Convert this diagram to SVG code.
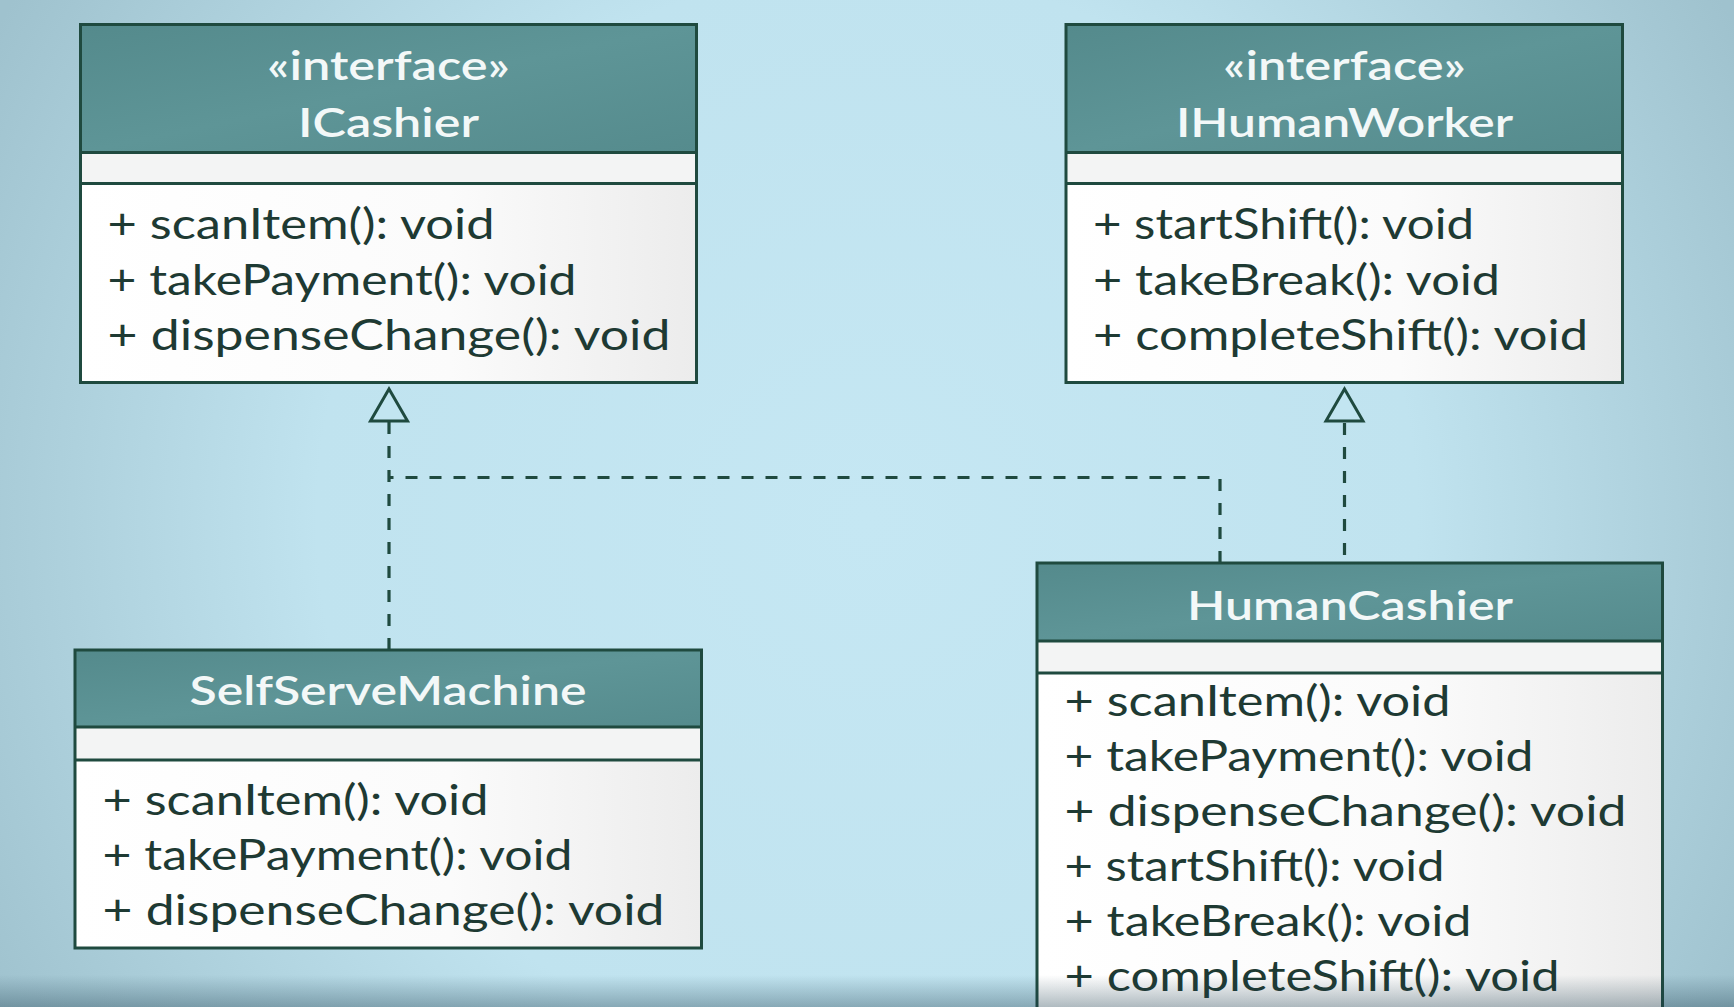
<svg xmlns="http://www.w3.org/2000/svg" width="1734" height="1007" viewBox="0 0 1734 1007">
<defs>
  <radialGradient id="bg" cx="867" cy="520" r="1000" gradientUnits="userSpaceOnUse">
    <stop offset="0" stop-color="#c5e7f3"/>
    <stop offset="0.55" stop-color="#c0e3ef"/>
    <stop offset="1" stop-color="#9fc2ce"/>
  </radialGradient>
  <linearGradient id="hdr" x1="0" y1="0" x2="1" y2="1">
    <stop offset="0" stop-color="#548a8c"/>
    <stop offset="0.5" stop-color="#5e9597"/>
    <stop offset="1" stop-color="#558b8d"/>
  </linearGradient>
  <linearGradient id="body" x1="0" y1="0" x2="1" y2="0">
    <stop offset="0" stop-color="#ffffff"/>
    <stop offset="0.6" stop-color="#fbfbfb"/>
    <stop offset="1" stop-color="#ececec"/>
  </linearGradient>
  <linearGradient id="shade" x1="0" y1="0" x2="0" y2="1">
    <stop offset="0" stop-color="#1c3c4c" stop-opacity="0"/>
    <stop offset="1" stop-color="#1c3c4c" stop-opacity="0.35"/>
  </linearGradient>
  <marker id="tri" markerUnits="userSpaceOnUse" viewBox="-3 -22 38 44" markerWidth="38" markerHeight="44" refX="0" refY="0" orient="auto">
    <path d="M0,-18.5 L32,0 L0,18.5 Z" fill="#c2e5f1" stroke="#1f4a3f" stroke-width="3" stroke-linejoin="miter"/>
  </marker>
  <style>
    .hdr { fill: url(#hdr); }
    .attr { fill: #f3f4f4; }
    .body { fill: url(#body); }
    .frame { fill: none; stroke: #1f4a3f; stroke-width: 3; }
    .sep { stroke: #1f4a3f; stroke-width: 3; }
    .ttl { font-family: Lato, "Open Sans", "Liberation Sans", sans-serif; font-size: 40px; font-weight: 600; fill: #f3f8f8; text-anchor: middle; }
    .m { font-family: Lato, "Open Sans", "Liberation Sans", sans-serif; font-size: 43px; fill: #1e3a33; }
    .dash { fill: none; stroke: #1f4a3f; stroke-width: 3.2; stroke-dasharray: 12 12; }
  </style>
</defs>

<rect x="0" y="0" width="1734" height="1007" fill="url(#bg)"/>

<g id="connectors">
  <path class="dash" d="M389,650 V421" marker-end="url(#tri)"/>
  <path class="dash" d="M1220,563 V477.5 H389"/>
  <path class="dash" d="M1344.5,555 V421" marker-end="url(#tri)"/>
</g>

<g id="ICashier">
  <rect class="hdr" x="80.5" y="24.5" width="616" height="128"/>
  <rect class="attr" x="80.5" y="152.5" width="616" height="31"/>
  <rect class="body" x="80.5" y="183.5" width="616" height="199"/>
  <line class="sep" x1="80.5" y1="152.5" x2="696.5" y2="152.5"/>
  <line class="sep" x1="80.5" y1="183.5" x2="696.5" y2="183.5"/>
  <rect class="frame" x="80.5" y="24.5" width="616" height="358"/>
  <text class="ttl" x="388.5" y="80" textLength="243" lengthAdjust="spacingAndGlyphs">«interface»</text>
  <text class="ttl" x="388.5" y="137" textLength="181" lengthAdjust="spacingAndGlyphs">ICashier</text>
  <text class="m" x="107.5" y="239" textLength="387" lengthAdjust="spacingAndGlyphs">+ scanItem(): void</text>
  <text class="m" x="107.5" y="295" textLength="469" lengthAdjust="spacingAndGlyphs">+ takePayment(): void</text>
  <text class="m" x="107.5" y="350" textLength="563" lengthAdjust="spacingAndGlyphs">+ dispenseChange(): void</text>
</g>

<g id="IHumanWorker">
  <rect class="hdr" x="1066" y="24.5" width="556.5" height="128"/>
  <rect class="attr" x="1066" y="152.5" width="556.5" height="31"/>
  <rect class="body" x="1066" y="183.5" width="556.5" height="199"/>
  <line class="sep" x1="1066" y1="152.5" x2="1622.5" y2="152.5"/>
  <line class="sep" x1="1066" y1="183.5" x2="1622.5" y2="183.5"/>
  <rect class="frame" x="1066" y="24.5" width="556.5" height="358"/>
  <text class="ttl" x="1344.5" y="80" textLength="243" lengthAdjust="spacingAndGlyphs">«interface»</text>
  <text class="ttl" x="1344.5" y="137" textLength="337" lengthAdjust="spacingAndGlyphs">IHumanWorker</text>
  <text class="m" x="1093" y="239" textLength="381" lengthAdjust="spacingAndGlyphs">+ startShift(): void</text>
  <text class="m" x="1093" y="295" textLength="407" lengthAdjust="spacingAndGlyphs">+ takeBreak(): void</text>
  <text class="m" x="1093" y="350" textLength="495" lengthAdjust="spacingAndGlyphs">+ completeShift(): void</text>
</g>

<g id="SelfServeMachine">
  <rect class="hdr" x="75" y="650" width="626.5" height="77"/>
  <rect class="attr" x="75" y="727" width="626.5" height="33"/>
  <rect class="body" x="75" y="760" width="626.5" height="188"/>
  <line class="sep" x1="75" y1="727" x2="701.5" y2="727"/>
  <line class="sep" x1="75" y1="760" x2="701.5" y2="760"/>
  <rect class="frame" x="75" y="650" width="626.5" height="298"/>
  <text class="ttl" x="388" y="705" textLength="397" lengthAdjust="spacingAndGlyphs">SelfServeMachine</text>
  <text class="m" x="102.5" y="815" textLength="386" lengthAdjust="spacingAndGlyphs">+ scanItem(): void</text>
  <text class="m" x="102.5" y="870" textLength="470" lengthAdjust="spacingAndGlyphs">+ takePayment(): void</text>
  <text class="m" x="102.5" y="925" textLength="562" lengthAdjust="spacingAndGlyphs">+ dispenseChange(): void</text>
</g>

<g id="HumanCashier">
  <rect class="hdr" x="1037" y="563" width="625.5" height="78"/>
  <rect class="attr" x="1037" y="641" width="625.5" height="32"/>
  <rect class="body" x="1037" y="673" width="625.5" height="340"/>
  <line class="sep" x1="1037" y1="641" x2="1662.5" y2="641"/>
  <line class="sep" x1="1037" y1="673" x2="1662.5" y2="673"/>
  <rect class="frame" x="1037" y="563" width="625.5" height="450"/>
  <text class="ttl" x="1350" y="620" textLength="326" lengthAdjust="spacingAndGlyphs">HumanCashier</text>
  <text class="m" x="1064.5" y="716" textLength="386" lengthAdjust="spacingAndGlyphs">+ scanItem(): void</text>
  <text class="m" x="1064.5" y="771" textLength="469" lengthAdjust="spacingAndGlyphs">+ takePayment(): void</text>
  <text class="m" x="1064.5" y="826" textLength="562" lengthAdjust="spacingAndGlyphs">+ dispenseChange(): void</text>
  <text class="m" x="1064.5" y="881" textLength="380" lengthAdjust="spacingAndGlyphs">+ startShift(): void</text>
  <text class="m" x="1064.5" y="936" textLength="407" lengthAdjust="spacingAndGlyphs">+ takeBreak(): void</text>
  <text class="m" x="1064.5" y="991" textLength="495" lengthAdjust="spacingAndGlyphs">+ completeShift(): void</text>
</g>

<rect x="0" y="975" width="1734" height="32" fill="url(#shade)"/>
</svg>
